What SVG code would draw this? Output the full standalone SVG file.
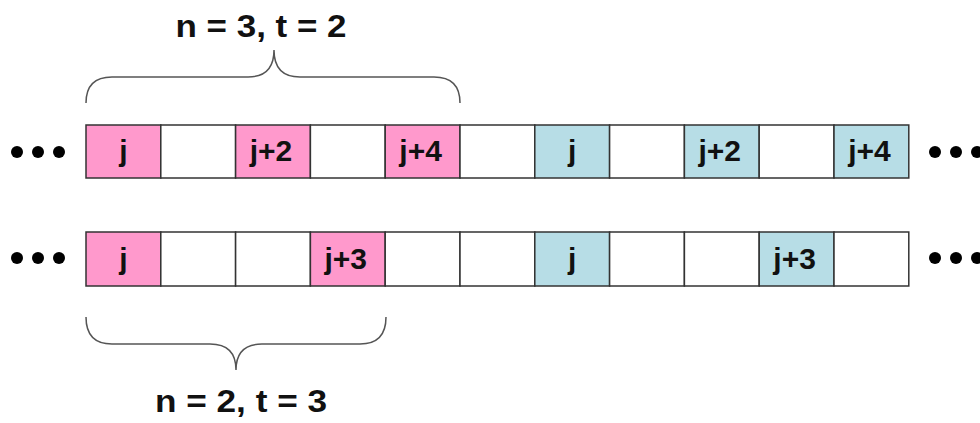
<svg xmlns="http://www.w3.org/2000/svg" width="980" height="423" viewBox="0 0 980 423">
<style>
.c{stroke:#333;stroke-width:1.5}
.p{fill:#FF99CC}
.b{fill:#B7DDE6}
.w{fill:#fff}
.t{font-family:"Liberation Sans",Arial,sans-serif;font-weight:bold;font-size:30px;fill:#111;text-anchor:middle}
.h{font-family:"Liberation Sans",Arial,sans-serif;font-weight:bold;font-size:31px;fill:#111;text-anchor:middle}
.d{fill:#000}
.br{fill:none;stroke:#555;stroke-width:1.5}
</style>
<rect width="980" height="423" fill="#fff"/>
<g id="label-top"><text class="h" x="261" y="37" textLength="171" lengthAdjust="spacingAndGlyphs">n = 3, t = 2</text></g>
<g id="label-bottom"><text class="h" x="241" y="412" textLength="172" lengthAdjust="spacingAndGlyphs">n = 2, t = 3</text></g>
<g id="connectors">
<path class="br" d="M86,103 Q86,77 112,77 L248,77 Q274,77 274,50 Q274,77 300,77 L434,77 Q460,77 460,103"/>
<path class="br" d="M86,317 Q86,344 112,344 L210,344 Q236,344 236,370 Q236,344 262,344 L360,344 Q386,344 386,317"/>
</g>
<g id="dots">
<circle class="d" cx="17" cy="152" r="6"/><circle class="d" cx="38" cy="152" r="6"/><circle class="d" cx="59" cy="152" r="6"/>
<circle class="d" cx="17" cy="258" r="6"/><circle class="d" cx="38" cy="258" r="6"/><circle class="d" cx="59" cy="258" r="6"/>
<circle class="d" cx="935" cy="152" r="6"/><circle class="d" cx="956" cy="152" r="6"/><circle class="d" cx="977" cy="152" r="6"/>
<circle class="d" cx="935" cy="258" r="6"/><circle class="d" cx="956" cy="258" r="6"/><circle class="d" cx="977" cy="258" r="6"/>
</g>
<g id="row1">
<rect class="c p" x="86" y="125" width="74.8" height="53"/>
<rect class="c w" x="160.8" y="125" width="74.8" height="53"/>
<rect class="c p" x="235.6" y="125" width="74.8" height="53"/>
<rect class="c w" x="310.4" y="125" width="74.8" height="53"/>
<rect class="c p" x="385.2" y="125" width="74.8" height="53"/>
<rect class="c w" x="460" y="125" width="74.8" height="53"/>
<rect class="c b" x="534.8" y="125" width="74.8" height="53"/>
<rect class="c w" x="609.6" y="125" width="74.8" height="53"/>
<rect class="c b" x="684.4" y="125" width="74.8" height="53"/>
<rect class="c w" x="759.2" y="125" width="74.8" height="53"/>
<rect class="c b" x="834" y="125" width="74.8" height="53"/>
<text class="t" x="123.4" y="161">j</text>
<text class="t" x="271" y="161">j+2</text>
<text class="t" x="420.6" y="161">j+4</text>
<text class="t" x="572.2" y="161">j</text>
<text class="t" x="719.8" y="161">j+2</text>
<text class="t" x="869.4" y="161">j+4</text>
</g>
<g id="row2">
<rect class="c p" x="86" y="232" width="74.8" height="54"/>
<rect class="c w" x="160.8" y="232" width="74.8" height="54"/>
<rect class="c w" x="235.6" y="232" width="74.8" height="54"/>
<rect class="c p" x="310.4" y="232" width="74.8" height="54"/>
<rect class="c w" x="385.2" y="232" width="74.8" height="54"/>
<rect class="c w" x="460" y="232" width="74.8" height="54"/>
<rect class="c b" x="534.8" y="232" width="74.8" height="54"/>
<rect class="c w" x="609.6" y="232" width="74.8" height="54"/>
<rect class="c w" x="684.4" y="232" width="74.8" height="54"/>
<rect class="c b" x="759.2" y="232" width="74.8" height="54"/>
<rect class="c w" x="834" y="232" width="74.8" height="54"/>
<text class="t" x="123.4" y="269">j</text>
<text class="t" x="345.8" y="269">j+3</text>
<text class="t" x="572.2" y="269">j</text>
<text class="t" x="794.6" y="269">j+3</text>
</g>
</svg>
